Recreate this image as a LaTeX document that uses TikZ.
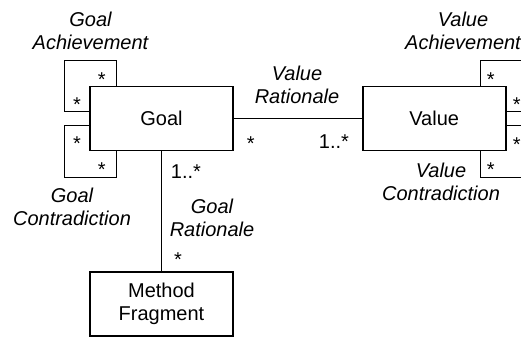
\documentclass[tikz,border=0pt]{standalone}
\usepackage{fontspec}
\setmainfont{Liberation Sans}
\usepackage{tikz}
\usetikzlibrary{positioning}
\tikzset{
  cls/.style={draw, line width=1.7pt, align=center, minimum width=143pt,
              minimum height=64pt, inner sep=2pt,
              font=\fontsize{20}{23}\selectfont},
  lbl/.style={align=center, inner sep=0pt,
              font=\fontsize{20}{23}\selectfont\itshape},
  mult/.style={anchor=base, inner sep=0pt, font=\fontsize{20}{23}\selectfont},
  assoc/.style={line width=1.2pt},
}
\begin{document}
\begin{tikzpicture}[x=1pt, y=-1pt]
\useasboundingbox (0,0) rectangle (521,337);
\clip (0,0) rectangle (521,337);
\node[cls] (goal) at (161.5,118.5) {Goal};
\node[cls, right=128pt of goal] (value) {Value};
\node[cls, below=120pt of goal] (method) {Method\\Fragment};
\draw[assoc] (goal) -- (value);
\draw[assoc] (goal.south -| method.north) -- (method.north);
\draw[assoc] ([xshift=27pt]goal.north west) |- ++(-52pt,25pt)
  |- ([yshift=-26pt]goal.north west);
\draw[assoc] ([yshift=26pt]goal.south west) -| ++(-25pt,-52pt)
  -| ([xshift=27pt]goal.south west);
\draw[assoc] ([xshift=-26pt]value.north east) |- ++(51pt,25pt)
  |- ([yshift=-26pt]value.north east);
\draw[assoc] ([yshift=26pt]value.south east) -| ++(25pt,-52pt)
  -| ([xshift=-26pt]value.south east);
\node[lbl] (gach) at (90.5,31) {Goal\\Achievement};
\node[lbl] (gcon) at (72,207) {Goal\\Contradiction};
\node[lbl] (vrat) at (297,85) {Value\\Rationale};
\node[lbl] (grat) at (212,217.5) {Goal\\Rationale};
\node[lbl] (vach) at (463,31) {Value\\Achievement};
\node[lbl] (vcon) at (441,181.5) {Value\\Contradiction};
\node[mult] (ga1) at (101.7,86.3) {*};
\node[mult] (ga2) at (77,111.3) {*};
\node[mult] (gc1) at (77,150.3) {*};
\node[mult] (gc2) at (101.7,176.3) {*};
\node[mult] (va1) at (490.7,86.3) {*};
\node[mult] (va2) at (516.7,111.3) {*};
\node[mult] (vc1) at (516.7,151.3) {*};
\node[mult] (vc2) at (490.7,176.3) {*};
\node[mult] (vr1) at (250.7,150.5) {*};
\node[mult] (vr2) at (334,148) {1..*};
\node[mult] (gr1) at (186,178) {1..*};
\node[mult] (gr2) at (178,266) {*};
\end{tikzpicture}
\end{document}
